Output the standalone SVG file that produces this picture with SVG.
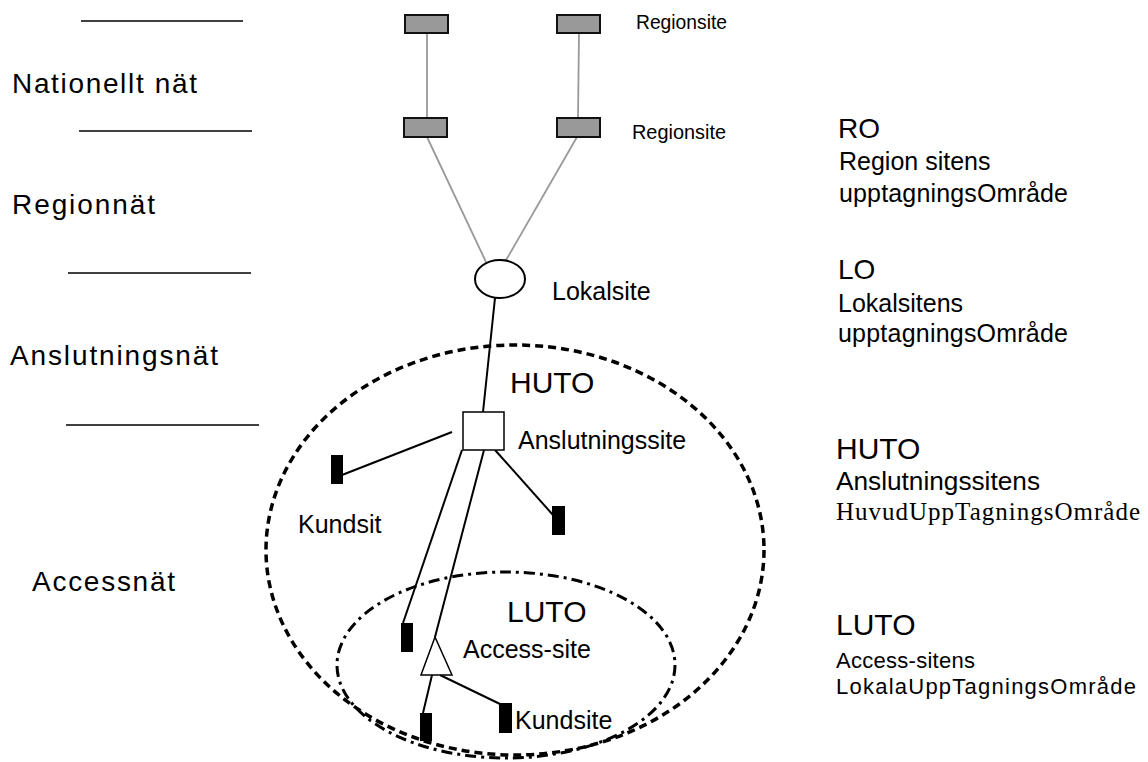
<svg xmlns="http://www.w3.org/2000/svg" width="1148" height="762" viewBox="0 0 1148 762">
<style>
text{font-family:"Liberation Sans",Arial,sans-serif;fill:#000}
.lvl{font-size:28px}
.big{font-size:30px}
.lbl{font-size:25px}
.rs{font-size:21px}
.desc{font-size:25px}
.serif{font-family:"Liberation Serif","Times New Roman",serif}
.sep{stroke:#000;stroke-width:1.5}
.gl{stroke:#999;stroke-width:1.8;fill:none}
.bl{stroke:#000;stroke-width:2;fill:none}
.reg{fill:#999;stroke:#111;stroke-width:2}
.ks{fill:#000}
</style>
<rect width="1148" height="762" fill="#fff"/>
<g id="levels">
<line class="sep" x1="81" y1="21" x2="243" y2="21"/>
<line class="sep" x1="79" y1="131" x2="252" y2="131"/>
<line class="sep" x1="68" y1="273" x2="251" y2="273"/>
<line class="sep" x1="66" y1="425" x2="259" y2="425"/>
<text class="lvl" x="12" y="93" textLength="185" lengthAdjust="spacing">Nationellt nät</text>
<text class="lvl" x="12" y="214" textLength="143" lengthAdjust="spacing">Regionnät</text>
<text class="lvl" x="10" y="365" textLength="208" lengthAdjust="spacing">Anslutningsnät</text>
<text class="lvl" x="32" y="591" textLength="143" lengthAdjust="spacing">Accessnät</text>
</g>
<g id="areas">
<ellipse cx="515" cy="550" rx="249" ry="205" fill="none" stroke="#000" stroke-width="3.5" stroke-dasharray="8 5"/>
<ellipse cx="506" cy="665" rx="169" ry="93" fill="none" stroke="#000" stroke-width="3" stroke-dasharray="11 5 3 5"/>
</g>
<g id="connectors">
<line class="gl" x1="427" y1="33" x2="427" y2="118"/>
<line class="gl" x1="579" y1="33" x2="578" y2="118"/>
<line class="gl" x1="427" y1="137" x2="486" y2="262"/>
<line class="gl" x1="577" y1="137" x2="505" y2="262"/>
<line class="bl" x1="495" y1="298" x2="483" y2="412"/>
<line class="bl" x1="452" y1="432" x2="342" y2="475"/>
<line class="bl" x1="495" y1="450" x2="553" y2="515"/>
<line class="bl" x1="462" y1="450" x2="403" y2="623"/>
<line class="bl" x1="484" y1="450" x2="435" y2="637"/>
<line class="bl" x1="432" y1="675" x2="423" y2="713"/>
<line class="bl" x1="440" y1="675" x2="500" y2="704"/>
</g>
<g id="regionsite-1"><rect class="reg" x="405" y="15" width="43" height="18"/></g>
<g id="regionsite-2"><rect class="reg" x="557" y="15" width="43" height="18"/><text class="rs" x="636" y="29" textLength="91" lengthAdjust="spacingAndGlyphs">Regionsite</text></g>
<g id="regionsite-3"><rect class="reg" x="404" y="118" width="43" height="19"/></g>
<g id="regionsite-4"><rect class="reg" x="557" y="118" width="43" height="19"/><text class="rs" x="632" y="139" textLength="94" lengthAdjust="spacingAndGlyphs">Regionsite</text></g>
<g id="lokalsite"><ellipse cx="500" cy="279" rx="25" ry="19" fill="#fff" stroke="#000" stroke-width="2"/><text class="lbl" x="552" y="300">Lokalsite</text></g>
<g id="anslutningssite"><rect x="463" y="412" width="41" height="38" fill="#fff" stroke="#000" stroke-width="1.5"/><text class="big" x="510" y="393">HUTO</text><text class="lbl" x="518" y="449">Anslutningssite</text></g>
<g id="kundsit-1"><rect class="ks" x="331" y="455" width="12" height="29"/><text class="lbl" x="298" y="533">Kundsit</text></g>
<g id="kundsit-2"><rect class="ks" x="552" y="506" width="13" height="29"/></g>
<g id="kundsit-3"><rect class="ks" x="401" y="623" width="12" height="29"/></g>
<g id="accesssite"><polygon points="435,637 421,675 452,675" fill="#fff" stroke="#000" stroke-width="1.5"/><text class="big" x="507" y="622">LUTO</text><text class="lbl" x="463" y="658">Access-site</text></g>
<g id="kundsite-4"><rect class="ks" x="420" y="713" width="12" height="28"/></g>
<g id="kundsite-5"><rect class="ks" x="499" y="703" width="13" height="30"/><text class="lbl" x="515" y="729">Kundsite</text></g>
<g id="legend">
<text class="big" x="838" y="138" style="font-size:28px">RO</text>
<text class="desc" x="839" y="170">Region sitens</text>
<text class="desc" x="839" y="202" textLength="229" lengthAdjust="spacing">upptagningsOmråde</text>
<text class="big" x="838" y="279" style="font-size:28px">LO</text>
<text class="desc" x="838" y="312">Lokalsitens</text>
<text class="desc" x="838" y="342" textLength="230" lengthAdjust="spacing">upptagningsOmråde</text>
<text class="big" x="836" y="459">HUTO</text>
<text class="desc" x="836" y="490" textLength="204" lengthAdjust="spacingAndGlyphs">Anslutningssitens</text>
<text class="desc serif" x="836" y="520" textLength="304" lengthAdjust="spacing">HuvudUppTagningsOmråde</text>
<text class="big" x="836" y="635">LUTO</text>
<text class="desc" x="836" y="668" style="font-size:22px" textLength="139" lengthAdjust="spacing">Access-sitens</text>
<text class="desc" x="836" y="694" style="font-size:22px" textLength="300" lengthAdjust="spacing">LokalaUppTagningsOmråde</text>
</g>
</svg>
